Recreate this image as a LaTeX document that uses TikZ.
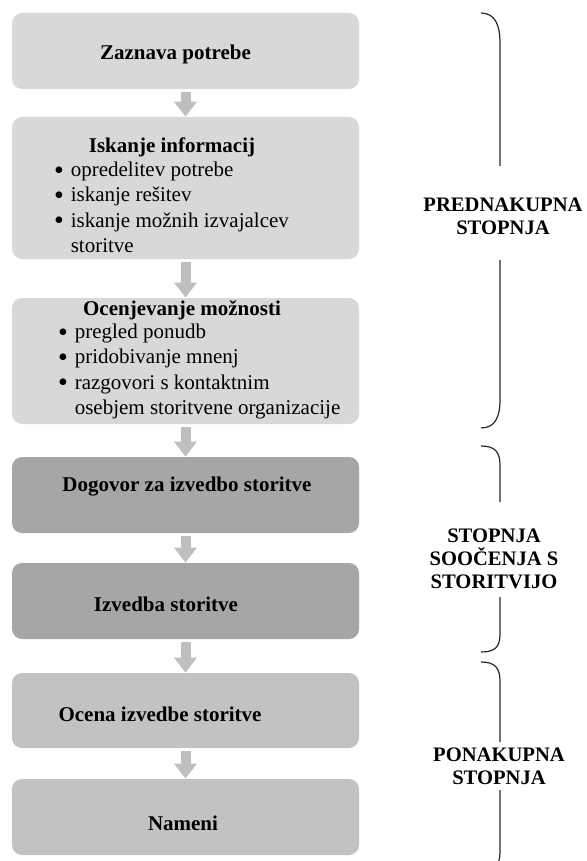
\documentclass[tikz,border=0pt]{standalone}
\usepackage{fontspec}
\setmainfont{Liberation Serif}
\usetikzlibrary{arrows.meta, positioning, calc}

\definecolor{paleGray}{HTML}{D8D8D8}
\definecolor{midGray}{HTML}{C2C2C2}
\definecolor{darkGray}{HTML}{A6A6A6}
\definecolor{arrowGray}{HTML}{BFBFBF}

\newcommand{\bigdot}{\makebox[3.7pt]{\raisebox{-1.3pt}{\fontsize{14}{14}\selectfont\textbullet}}}

\begin{document}
\begin{tikzpicture}[
            x=0.5pt, y=-0.5pt,
            stagebox/.style={rectangle, rounded corners=5pt, draw=none,
                             minimum width=173.5pt, inner sep=0pt},
            palebox/.style={stagebox, fill=paleGray},
            midbox/.style={stagebox, fill=midGray},
            darkbox/.style={stagebox, fill=darkGray},
            boxtitle/.style={font=\fontsize{10.5}{12.7}\selectfont\bfseries, inner sep=0pt},
            bullets/.style={font=\fontsize{10.5}{12.7}\selectfont, inner sep=0pt, anchor=mid west},
            phase/.style={font=\fontsize{10.3}{11.6}\selectfont\bfseries, align=center, inner sep=0pt},
            blockarrow/.style={-{Triangle[width=11pt, length=7.5pt]}, line width=5pt,
                               arrowGray, shorten <=1.5pt},
            bracket/.style={line width=0.6pt, black!85}
        ]

        \useasboundingbox (0,0) rectangle (587,861);
        \clip (0,0) rectangle (587,861);

        % ===== STAGE BOXES =====
        \node[palebox, minimum height=38pt] (b1) at (185.5,51) {};
        \node[palebox, minimum height=71pt] (b2) at (185.5,188) {};
        \node[palebox, minimum height=63pt] (b3) at (185.5,361) {};
        \node[darkbox, minimum height=38pt] (b4) at (185.5,495) {};
        \node[darkbox, minimum height=38pt] (b5) at (185.5,601) {};
        \node[midbox, minimum height=37.5pt] (b6) at (185.5,710.5) {};
        \node[midbox, minimum height=38pt] (b7) at (185.5,817) {};

        % ===== BOX TEXTS =====
        \node[boxtitle] (t1) at ($(b1)+(-10,3)$) {Zaznava potrebe};

        \node[boxtitle] (t2) at (172,147) {Iskanje informacij};
        \node[bullets] (l2) at (55,172) {\begin{tabular}[t]{@{}l@{\hspace{4pt}}l@{}}
            \bigdot & opredelitev potrebe\\
            \bigdot & iskanje rešitev\\
            \bigdot & iskanje možnih izvajalcev\\
                    & storitve
            \end{tabular}};

        \node[boxtitle] (t3) at (182,310) {Ocenjevanje možnosti};
        \node[bullets] (l3) at (59,334) {\begin{tabular}[t]{@{}l@{\hspace{4pt}}l@{}}
            \bigdot & pregled ponudb\\
            \bigdot & pridobivanje mnenj\\
            \bigdot & razgovori s kontaktnim\\
                    & osebjem storitvene organizacije
            \end{tabular}};

        \node[boxtitle] (t4) at ($(b4)+(1.5,-8)$) {Dogovor za izvedbo storitve};
        \node[boxtitle] (t5) at ($(b5)+(-19.5,3)$) {Izvedba storitve};
        \node[boxtitle] (t6) at ($(b6)+(-25.5,3.5)$) {Ocena izvedbe storitve};
        \node[boxtitle] (t7) at ($(b7)+(-2.5,6)$) {Nameni};

        % ===== ARROWS =====
        \draw[blockarrow] (b1) -- (b2);
        \draw[blockarrow] (b2) -- (b3);
        \draw[blockarrow] (b3) -- (b4);
        \draw[blockarrow] (b4) -- (b5);
        \draw[blockarrow] (b5) -- (b6);
        \draw[blockarrow] (b6) -- (b7);

        % ===== PHASE LABELS =====
        \node[phase] (p1) at (503,216) {PREDNAKUPNA\\STOPNJA};
        \node[phase] (p2) at (494,559) {STOPNJA\\SOOČENJA S\\STORITVIJO};
        \node[phase] (p3) at (499,766) {PONAKUPNA\\STOPNJA};

        % ===== BRACES =====
        \draw[bracket] (481,13) .. controls (495,13) and (500,25) .. (500,43) -- (500,166);
        \draw[bracket] (500,260) -- (500,400) .. controls (500,417) and (495,428) .. (481,428);

        \draw[bracket] (481,446) .. controls (495,446) and (500,452) .. (500,465) -- (500,502);
        \draw[bracket] (500,597) -- (500,634) .. controls (500,647) and (495,652) .. (481,652);

        \draw[bracket] (481,662) .. controls (495,662) and (500,668) .. (500,681) -- (500,742);
        \draw[bracket] (500,790) -- (500,852) .. controls (500,865) and (495,870) .. (481,870);

        \end{tikzpicture}
\end{document}
